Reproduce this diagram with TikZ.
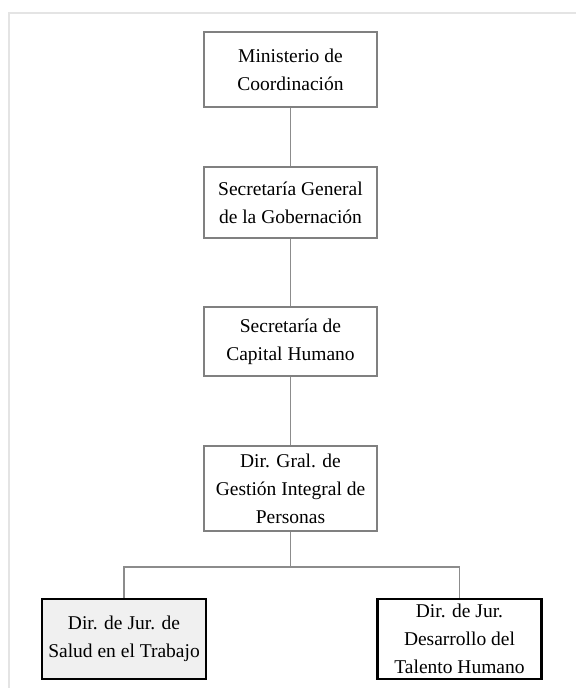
\documentclass[tikz,border=0pt]{standalone}
\usepackage{fontspec}
\setmainfont{Liberation Serif}
\definecolor{boxgrey}{HTML}{808080}
\definecolor{linegrey}{HTML}{8C8C8C}
\definecolor{framegrey}{HTML}{E4E4E4}
\definecolor{softfill}{HTML}{F0F0F0}
\tikzset{
  unit/.style={draw=boxgrey, line width=1.8pt, fill=white, inner sep=0pt,
    align=center, font=\fontsize{19.5}{28}\selectfont,
    minimum width=173pt},
  leaf/.style={draw=black, line width=2.2pt, fill=white, inner sep=0pt,
    align=center, font=\fontsize{19.5}{28}\selectfont,
    minimum width=164pt, minimum height=80pt},
  link/.style={draw=linegrey, line width=1.4pt}
}
\begin{document}
\begin{tikzpicture}[x=1pt, y=-1pt]
  \useasboundingbox (0,0) rectangle (576,688);
  \fill[white] (0,0) rectangle (576,688);
  % outer frame
  \draw[framegrey, line width=2pt] (9,688) -- (9,13) -- (576,13);

  % chain of units
  \node[unit, minimum height=75pt] (min) at (290.5,69.5) {Ministerio de\\Coordinación};
  \node[unit, minimum height=71pt] (sg) at (290.5,202.5) {Secretaría General\\de la Gobernación};
  \node[unit, minimum height=69pt] (sch) at (290.5,341.5) {Secretaría de\\Capital Humano};
  \node[unit, minimum height=85pt] (dg) at (290.5,488.5) {Dir. Gral. de\\Gestión Integral de\\Personas};

  % lower level
  \node[leaf, fill=softfill] (salud) at (124,639) {Dir. de Jur. de\\Salud en el Trabajo};
  \node[leaf] (talento) at (459.5,639) {Dir. de Jur.\\Desarrollo del\\Talento Humano};

  % connectors
  \draw[link] (min.south) -- (sg.north);
  \draw[link] (sg.south) -- (sch.north);
  \draw[link] (sch.south) -- (dg.north);
  \coordinate (bus) at (290.5,568);
  \draw[link] (dg.south) -- (bus);
  \draw[link] (salud.north) -- ++(0,-31) -| (talento.north);
\end{tikzpicture}
\end{document}
